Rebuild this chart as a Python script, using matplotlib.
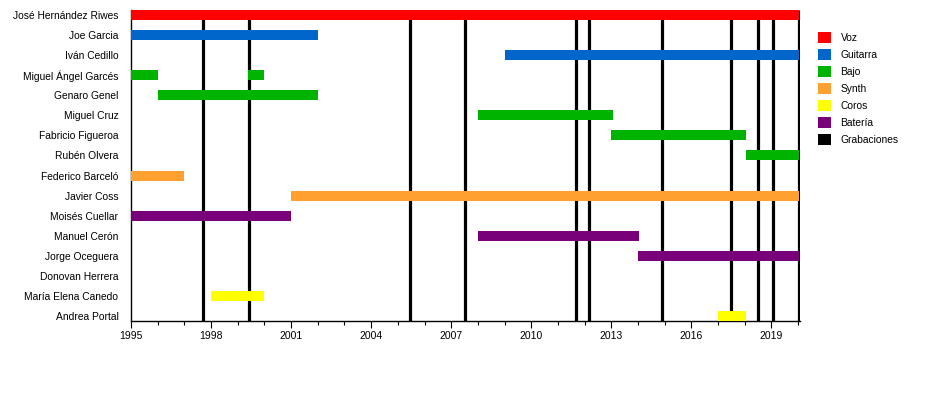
import matplotlib.pyplot as plt
from matplotlib.patches import Patch
from matplotlib.ticker import MultipleLocator

plt.rcParams['font.family'] = ['Liberation Sans', 'DejaVu Sans']

# -------------------------- Data --------------------------
members = ['José Hernández Riwes', 'Joe Garcia', 'Iván Cedillo', 'Miguel Ángel Garcés',
           'Genaro Genel', 'Miguel Cruz', 'Fabricio Figueroa', 'Rubén Olvera',
           'Federico Barceló', 'Javier Coss', 'Moisés Cuellar', 'Manuel Cerón',
           'Jorge Oceguera', 'Donovan Herrera', 'María Elena Canedo', 'Andrea Portal']

end_date = 2020.05

# one entry per bar
bar_member = ['José Hernández Riwes', 'Joe Garcia', 'Iván Cedillo',
              'Miguel Ángel Garcés', 'Miguel Ángel Garcés', 'Genaro Genel',
              'Miguel Cruz', 'Fabricio Figueroa', 'Rubén Olvera',
              'Federico Barceló', 'Javier Coss', 'Moisés Cuellar',
              'Manuel Cerón', 'Jorge Oceguera', 'María Elena Canedo', 'Andrea Portal']
bar_start = [1995, 1995, 2009, 1995, 1999.4, 1996, 2008, 2013, 2018.05,
             1995, 2001, 1995, 2008, 2014, 1998, 2017]
bar_end = [end_date, 2002, end_date, 1996, 2000, 2002, 2013.05, 2018.05, end_date,
           1997, end_date, 2001, 2014.05, end_date, 2000, 2018.05]
bar_role = ['Voz', 'Guitarra', 'Guitarra', 'Bajo', 'Bajo', 'Bajo', 'Bajo', 'Bajo', 'Bajo',
            'Synth', 'Synth', 'Batería', 'Batería', 'Batería', 'Coros', 'Coros']

recordings = [1997.7, 1999.42, 2005.45, 2007.5, 2011.67, 2012.15,
              2014.9, 2017.47, 2018.5, 2019.05, 2020.05]

roles = ['Voz', 'Guitarra', 'Bajo', 'Synth', 'Coros', 'Batería', 'Grabaciones']
role_colors = {'Voz': '#ff0000', 'Guitarra': '#0066cc', 'Bajo': '#00b300',
               'Synth': '#ffa030', 'Coros': '#ffff00', 'Batería': '#780078',
               'Grabaciones': '#000000'}

# -------------------------- Figure --------------------------
fig = plt.figure(figsize=(9.5, 4), dpi=100)
ax = fig.add_axes([131 / 950, 79 / 400, 669 / 950, 311 / 400])

bar_h = 0.5
for m, s, e, r in zip(bar_member, bar_start, bar_end, bar_role):
    ax.barh(members.index(m), e - s, left=s, height=bar_h,
            color=role_colors[r], zorder=3)

ax.vlines(recordings, -bar_h / 2, len(members) - 1 + bar_h / 2,
          color='black', lw=2.3, zorder=2)

ax.set_xlim(1995, 2020.07)
ax.set_ylim(len(members) - 1 + bar_h / 2, -bar_h / 2)
ax.set_yticks(range(len(members)))
ax.set_yticklabels(members, fontsize=7.4)
ax.tick_params(axis='y', length=0, pad=9)

ax.xaxis.set_major_locator(MultipleLocator(3))
ax.xaxis.set_minor_locator(MultipleLocator(1))
ax.tick_params(axis='x', which='major', length=5, width=0.8, labelsize=7.5, pad=2.5)
ax.tick_params(axis='x', which='minor', length=3, width=0.8)

for side in ['top', 'right']:
    ax.spines[side].set_visible(False)
ax.spines['left'].set_linewidth(1)
ax.spines['bottom'].set_linewidth(1)

handles = [Patch(facecolor=role_colors[r], edgecolor='none', label=r) for r in roles]
fig.legend(handles=handles, loc='upper left', bbox_to_anchor=(818 / 950, 1 - 32 / 400),
           frameon=False, fontsize=7.4, handlelength=1.3, handleheight=1.3,
           handletextpad=0.9, labelspacing=0.56, borderpad=0, borderaxespad=0)

fig.savefig('out.png', dpi=100)
